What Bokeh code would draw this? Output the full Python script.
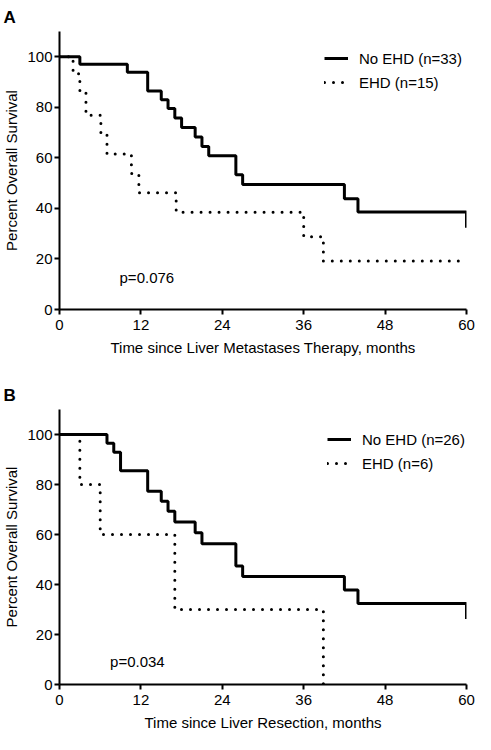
from bokeh.plotting import figure
from bokeh.layouts import column
from bokeh.models import FixedTicker, Range1d, Legend, LegendItem
from bokeh.embed import file_html
from bokeh.resources import INLINE
from bokeh.core.properties import value

FONT = "Liberation Sans"

# ---------------- data ----------------
x_ticks = [0, 12, 24, 36, 48, 60]
y_ticks = [0, 20, 40, 60, 80, 100]

# Panel A: Liver metastases therapy
a_time_no = [0, 3, 10, 13, 15, 16, 17, 18, 20, 21, 22, 26, 27, 42, 44, 60]
a_surv_no = [100, 97.0, 93.9, 86.5, 83.0, 79.5, 75.8, 72.0, 68.3, 64.5, 60.8, 53.3, 49.5, 43.8, 38.6, 32.3]
a_time_ehd = [0, 2, 3, 3.9, 6.1, 7, 10.6, 11.7, 17.2, 36, 38.9, 59]
a_surv_ehd = [100, 93.3, 86.7, 76.9, 69.2, 61.5, 53.8, 46.2, 38.5, 28.8, 19.2, 19.2]
a_labels = ["No EHD (n=33)", "EHD (n=15)"]
a_xlabel = "Time since Liver Metastases Therapy, months"
a_ptext = ["p=0.076"]
a_px = [8.85]
a_py = [12.8]

# Panel B: Liver resection
b_time_no = [0, 7, 8, 9, 13, 15, 16, 17, 20, 21, 26, 27, 42, 44, 60]
b_surv_no = [100, 96.5, 92.9, 85.5, 77.3, 73.3, 69.3, 65.0, 60.7, 56.3, 47.4, 43.2, 37.8, 32.4, 26.2]
b_time_ehd = [0, 3, 6, 17, 38.9]
b_surv_ehd = [100, 80, 60, 30, 0]
b_labels = ["No EHD (n=26)", "EHD (n=6)"]
b_xlabel = "Time since Liver Resection, months"
b_ptext = ["p=0.034"]
b_px = [7.45]
b_py = [9.4]

y_label = "Percent Overall Survival"


def make_panel(letter, t_no, s_no, t_ehd, s_ehd, labels, xlabel, ptext, px, py,
               height, top, bottom, legend_xy):
    p = figure(width=475, height=height, output_backend="svg", toolbar_location=None,
               x_range=Range1d(0, 60), y_range=Range1d(0, 110),
               min_border_left=52, min_border_right=9,
               min_border_top=top, min_border_bottom=bottom)
    p.outline_line_color = None
    p.xgrid.visible = False
    p.ygrid.visible = False
    p.background_fill_color = "white"
    p.border_fill_color = "white"

    p.title.text = letter
    p.title.align = "left"
    p.title.offset = -56
    p.title.standoff = 10
    p.title.text_font = FONT
    p.title.text_font_size = "17px"
    p.title.text_font_style = "bold"
    p.title.text_color = "black"

    for ax in (p.xaxis[0], p.yaxis[0]):
        ax.axis_line_width = 2
        ax.axis_line_color = "black"
        ax.major_tick_line_width = 2
        ax.major_tick_line_color = "black"
        ax.major_tick_out = 5
        ax.major_tick_in = 0
        ax.minor_tick_line_color = None
        ax.major_label_text_font = FONT
        ax.major_label_text_font_size = "15px"
        ax.major_label_text_color = "black"
        ax.axis_label_text_font = FONT
        ax.axis_label_text_font_size = "15px"
        ax.axis_label_text_font_style = "normal"
        ax.axis_label_text_color = "black"
    p.xaxis[0].ticker = FixedTicker(ticks=x_ticks)
    p.yaxis[0].ticker = FixedTicker(ticks=y_ticks)
    p.xaxis[0].axis_label = xlabel
    p.yaxis[0].axis_label = y_label
    p.xaxis[0].major_label_standoff = 5
    p.xaxis[0].axis_label_standoff = 6
    p.yaxis[0].major_label_standoff = 2
    p.yaxis[0].axis_label_standoff = 4

    r1 = p.step(t_no, s_no, mode="after", line_width=3, line_color="black")
    r2 = p.step(t_ehd, s_ehd, mode="after", line_width=3, line_color="black",
                line_dash="0 9", line_cap="round")

    legend = Legend(items=[LegendItem(label=labels[0], renderers=[r1]),
                           LegendItem(label=labels[1], renderers=[r2])],
                    location=legend_xy, border_line_color=None,
                    background_fill_alpha=0, padding=0, margin=0, spacing=4,
                    glyph_width=24, glyph_height=20, label_height=20,
                    label_standoff=11, label_text_font=FONT,
                    label_text_font_size="15px", label_text_color="black")
    p.add_layout(legend)

    p.text(x=px, y=py, text=ptext, text_font=value(FONT), text_font_size="15px",
           text_color="black", text_align="left", text_baseline="alphabetic")
    return p


pa = make_panel("A", a_time_no, a_surv_no, a_time_ehd, a_surv_ehd, a_labels, a_xlabel,
                a_ptext, a_px, a_py, height=378, top=31, bottom=69,
                legend_xy=(265, 217))
pb = make_panel("B", b_time_no, b_surv_no, b_time_ehd, b_surv_ehd, b_labels, b_xlabel,
                b_ptext, b_px, b_py, height=356, top=30, bottom=50,
                legend_xy=(268, 211))

layout = column(pa, pb, spacing=0)
open("out.html", "w").write(file_html(layout, INLINE))
